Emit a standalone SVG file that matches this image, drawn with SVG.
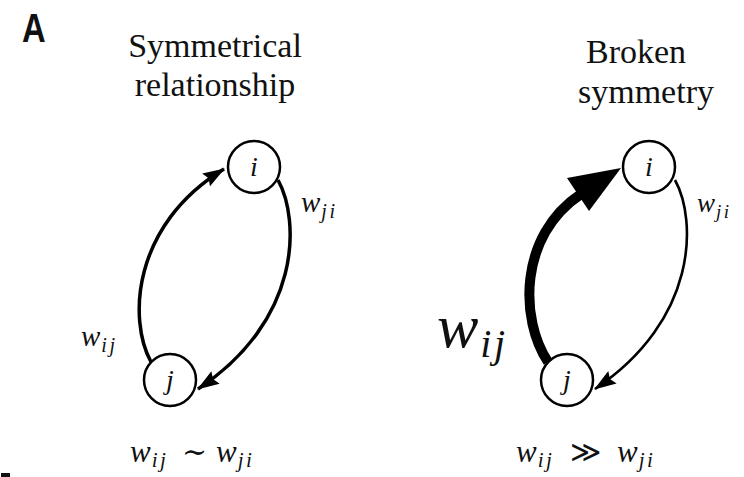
<svg xmlns="http://www.w3.org/2000/svg" width="744" height="477" viewBox="0 0 744 477">
<defs>
<style>
.title{font-family:"Liberation Serif","Times New Roman",serif;font-size:34px;fill:#111;text-anchor:middle}
.math{font-family:"Liberation Serif","DejaVu Serif",serif;font-style:italic;fill:#111}
.sub{letter-spacing:2.5px}
.sym{font-family:"DejaVu Serif","Liberation Serif",serif;font-style:normal;fill:#111}
.node circle{fill:#fff;stroke:#000;stroke-width:2.5}
.node text{font-family:"Liberation Serif",serif;font-style:italic;font-size:28px;text-anchor:middle;fill:#111}
.edge{fill:none;stroke:#000;stroke-linecap:butt}
</style>
<marker id="ah" viewBox="0 0 22 15" refX="21" refY="7.5" markerWidth="22" markerHeight="15" markerUnits="userSpaceOnUse" orient="auto">
<path d="M0,0 L22,7.5 L0,15 L3,7.5 Z" fill="#000"/>
</marker>
</defs>
<rect width="744" height="477" fill="#fff"/>
<text x="0" y="0" transform="translate(22,42) scale(0.82,1)" font-family="Liberation Sans,Arial,sans-serif" font-weight="bold" font-size="40" fill="#111">A</text>
<rect x="1" y="473" width="9" height="4" fill="#111"/>

<g id="titles">
<text class="title" x="215" y="57">Symmetrical</text>
<text class="title" x="215" y="96">relationship</text>
<text class="title" x="636" y="63">Broken</text>
<text class="title" x="646" y="103">symmetry</text>
</g>

<g id="connectors">
<path class="edge" stroke-width="3.5" d="M151,362 C128,320 132,225 224,169" marker-end="url(#ah)"/>
<path class="edge" stroke-width="3.5" d="M278,180 C300,220 302,320 198,389" marker-end="url(#ah)"/>
<path class="edge" stroke-width="10" d="M548,362 C520,320 518,236 581,194"/>
<polygon points="621,168 567,178 589,211" fill="#000"/>
<path class="edge" stroke-width="2.6" d="M675,180 C697,220 698,320 595,389" marker-end="url(#ah)"/>
</g>

<g id="node-i-left" class="node">
<circle cx="254" cy="167" r="26"/>
<text x="254" y="176">i</text>
</g>
<g id="node-j-left" class="node">
<circle cx="170" cy="380" r="26"/>
<text x="170" y="389">j</text>
</g>
<g id="node-i-right" class="node">
<circle cx="649" cy="167" r="26"/>
<text x="649" y="176">i</text>
</g>
<g id="node-j-right" class="node">
<circle cx="567" cy="380" r="26"/>
<text x="567" y="389">j</text>
</g>

<g id="labels">
<text class="math" x="301" y="212" font-size="29">w<tspan class="sub" font-size="20" dy="6" dx="1">ji</tspan></text>
<text class="math" x="81" y="346" font-size="29">w<tspan class="sub" font-size="20" dy="6" dx="1">ij</tspan></text>
<text class="math" x="697" y="212" font-size="27">w<tspan class="sub" font-size="19" dy="6" dx="1">ji</tspan></text>
<text class="math" x="437" y="347" font-size="62">w<tspan class="sub" font-size="40" dy="10" dx="2" letter-spacing="5">ij</tspan></text>
<text class="math" x="130" y="462" font-size="31">w<tspan class="sub" font-size="21" dy="5" dx="1">ij</tspan><tspan class="sym" x="182" dy="-5" font-size="30">∼</tspan><tspan x="216">w</tspan><tspan class="sub" font-size="21" dy="5" dx="1">ji</tspan></text>
<text class="math" x="516" y="462" font-size="31">w<tspan class="sub" font-size="21" dy="5" dx="1">ij</tspan><tspan class="sym" x="570" dy="-5" font-size="30">≫</tspan><tspan x="617">w</tspan><tspan class="sub" font-size="21" dy="5" dx="1">ji</tspan></text>
</g>
</svg>
